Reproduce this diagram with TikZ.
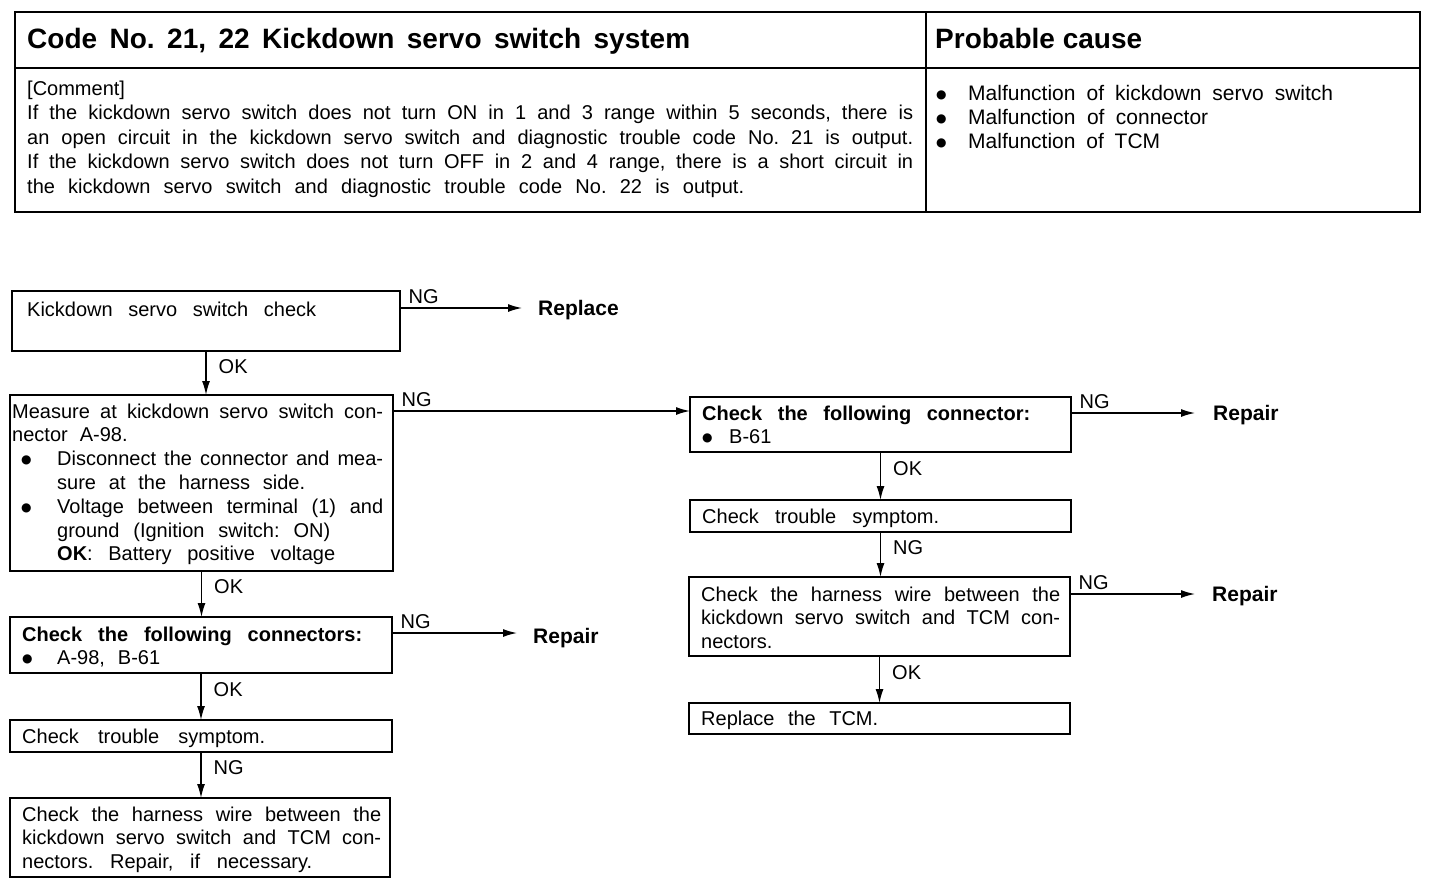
\documentclass[tikz,border=0pt]{standalone}
\usepackage{fontspec}
\setmainfont{Liberation Sans}
\newfontfamily\dejavu{DejaVu Sans}
\usetikzlibrary{arrows.meta,calc}
\newcommand\fs{\fontsize{20}{23.8}\selectfont}
\newcommand\jline[2]{\makebox[#1pt][s]{#2}}
\newcommand\bigbul{\raisebox{2pt}{\dejavu\fontsize{12}{14}\selectfont ●}}
\newcommand\bul{\makebox[45pt][l]{\hspace*{9pt}\bigbul}}
\newcommand\ind{\hspace*{45pt}}
\frenchspacing
\begin{document}
\begin{tikzpicture}[x=1pt,y=-1pt,
  box/.style={draw, line width=1.8pt, anchor=north west, inner sep=0, outer sep=0},
  txt/.style={anchor=base west, inner sep=0, font=\fs},
  arr/.style={line width=1.4pt, -{Latex[length=14pt,width=8pt]}},
  lbl/.style={inner sep=0, font=\fs},
  oklbl/.style={lbl, anchor=west, pos=.35, xshift=12pt},
  nglbl/.style={lbl, anchor=south west, pos=0, shift={(8pt,4pt)}},
  res/.style={anchor=base west, inner sep=0, font=\fontsize{21}{24}\selectfont\bfseries}]
\useasboundingbox (0,0) rectangle (1440,884);
\fill[white] (0,0) rectangle (1440,884);

% ---- table ----
\draw[line width=2.4pt] (15,12) rectangle (1420,212);
\draw[line width=2pt] (15,68) -- (1420,68);
\draw[line width=2pt] (926,12) -- (926,212);
\node[anchor=base west, inner sep=0, font=\fontsize{28}{34}\selectfont\bfseries] (title) at (27,48)
  {\jline{663}{Code No. 21, 22 Kickdown servo switch system}};
\node[anchor=base west, inner sep=0, font=\fontsize{28}{34}\selectfont\bfseries] (cause) at (935,48)
  {Probable cause};
\node[txt] (comment) at (27,95) {\vtop{\fontsize{20}{24.5}\selectfont
  \hbox{[Comment]}
  \hbox{\jline{886}{If the kickdown servo switch does not turn ON in 1 and 3 range within 5 seconds, there is}}
  \hbox{\jline{886}{an open circuit in the kickdown servo switch and diagnostic trouble code No. 21 is output.}}
  \hbox{\jline{886}{If the kickdown servo switch does not turn OFF in 2 and 4 range, there is a short circuit in}}
  \hbox{\jline{717}{the kickdown servo switch and diagnostic trouble code No. 22 is output.}}}};
\node[txt] (causes) at (936,100) {\vtop{\fontsize{21}{24}\selectfont
  \hbox{\makebox[32pt][l]{\bigbul}\jline{365}{Malfunction of kickdown servo switch}}
  \hbox{\makebox[32pt][l]{\bigbul}\jline{240}{Malfunction of connector}}
  \hbox{\makebox[32pt][l]{\bigbul}\jline{192}{Malfunction of TCM}}}};

% ---- boxes ----
\node[box, minimum width=388pt, minimum height=60pt] (b1) at (12,291) {};
\node[box, minimum width=383pt, minimum height=176pt] (b2) at (10,395) {};
\node[box, minimum width=382pt, minimum height=56pt] (b3) at (10,617) {};
\node[box, minimum width=382pt, minimum height=32pt] (b4) at (10,720) {};
\node[box, minimum width=380pt, minimum height=79pt] (b5) at (10,798) {};
\node[box, minimum width=381pt, minimum height=55pt] (b6) at (690,397) {};
\node[box, minimum width=381pt, minimum height=32pt] (b7) at (690,500) {};
\node[box, minimum width=381pt, minimum height=79pt] (b8) at (689,577) {};
\node[box, minimum width=381pt, minimum height=31pt] (b9) at (689,703) {};

% ---- box texts ----
\node[txt] (b1t) at (27,316) {\jline{289}{Kickdown servo switch check}};
\node[txt] (b2t) at (12,418) {\vtop{\fs
  \hbox{\jline{371}{Measure at kickdown servo switch con-}}
  \hbox{nector\hspace{12pt}A-98.}
  \hbox{\bul\jline{326}{Disconnect the connector and mea-}}
  \hbox{\ind\jline{248}{sure at the harness side.}}
  \hbox{\bul\jline{326}{Voltage between terminal (1) and}}
  \hbox{\ind\jline{273}{ground (Ignition switch: ON)}}
  \hbox{\ind\jline{278}{\textbf{OK}: Battery positive voltage}}}};
\node[txt] (b3t) at (22,641) {\vtop{\fs
  \hbox{\textbf{\jline{340}{Check the following connectors:}}}
  \hbox{\makebox[35pt][l]{\bigbul}\jline{103}{A-98, B-61}}}};
\node[txt] (b4t) at (22,743) {\jline{243}{Check trouble symptom.}};
\node[txt] (b5t) at (22,821) {\vtop{\fs
  \hbox{\jline{359}{Check the harness wire between the}}
  \hbox{\jline{359}{kickdown servo switch and TCM con-}}
  \hbox{\jline{290}{nectors. Repair, if necessary.}}}};
\node[txt] (b6t) at (702,420) {\vtop{\fs
  \hbox{\textbf{\jline{328}{Check the following connector:}}}
  \hbox{\makebox[27pt][l]{\bigbul}B-61}}};
\node[txt] (b7t) at (702,523) {\jline{237}{Check trouble symptom.}};
\node[txt] (b8t) at (701,601) {\vtop{\fs
  \hbox{\jline{359}{Check the harness wire between the}}
  \hbox{\jline{359}{kickdown servo switch and TCM con-}}
  \hbox{nectors.}}};
\node[txt] (b9t) at (701,725) {\jline{177}{Replace the TCM.}};

% ---- vertical connectors ----
\draw[arr] (b1.south) -- node[oklbl]{OK} (b1.south |- b2.north);
\draw[arr] (b2.south) -- node[oklbl]{OK} (b2.south |- b3.north);
\draw[arr] (b3.south) -- node[oklbl]{OK} (b3.south |- b4.north);
\draw[arr] (b4.south) -- node[oklbl]{NG} (b4.south |- b5.north);
\draw[arr] (b6.south) -- node[oklbl]{OK} (b6.south |- b7.north);
\draw[arr] (b7.south) -- node[oklbl]{NG} (b7.south |- b8.north);
\draw[arr] (b8.south) -- node[oklbl]{OK} (b8.south |- b9.north);

% ---- horizontal connectors ----
\coordinate (e1) at (522,308);
\draw[arr] (b1.east |- e1) -- node[nglbl]{NG} (e1);
\node[res] (rep1) at (538,315) {Replace};
\coordinate (b6in) at ($(b6.north west)+(0,14)$);
\draw[arr] (b2.east |- b6in) -- node[nglbl]{NG} (b6in);
\coordinate (e3) at (517,633);
\draw[arr] (b3.east |- e3) -- node[nglbl]{NG} (e3);
\node[res] (rep3) at (533,643) {Repair};
\coordinate (e6) at (1195,413);
\draw[arr] (b6.east |- e6) -- node[nglbl]{NG} (e6);
\node[res] (rep6) at (1213,420) {Repair};
\coordinate (e8) at (1195,594);
\draw[arr] (b8.east |- e8) -- node[nglbl]{NG} (e8);
\node[res] (rep8) at (1212,601) {Repair};
\end{tikzpicture}
\end{document}
